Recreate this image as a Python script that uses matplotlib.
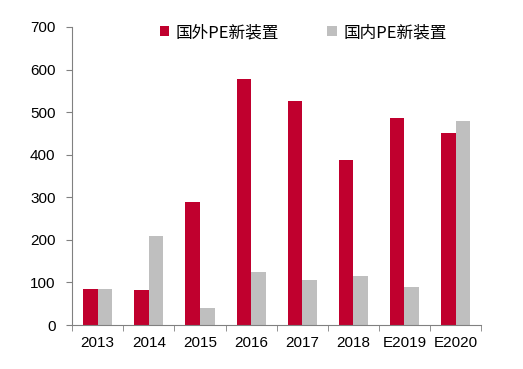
import matplotlib
matplotlib.use("Agg")
import matplotlib.pyplot as plt
import numpy as np

years = ["2013", "2014", "2015", "2016", "2017", "2018", "E2019", "E2020"]
foreign = [85, 83, 288, 578, 525, 387, 486, 450]
domestic = [85, 210, 40, 125, 105, 115, 90, 480]
labels = ["国外PE新装置", "国内PE新装置"]

RED = "#C0002E"
GREY = "#BFBFBF"
AX = "#808080"

plt.rcParams["font.family"] = ["Liberation Sans", "Noto Sans CJK SC", "DejaVu Sans"]

fig = plt.figure(figsize=(5.23, 3.69), dpi=100)
ax = fig.add_axes([0.138, 0.119, 0.782, 0.808])

x = np.arange(len(years))
w = 0.285
ax.bar(x - w / 2, foreign, w, color=RED, label=labels[0])
ax.bar(x + w / 2, domestic, w, color=GREY, label=labels[1])

ax.set_xlim(-0.5, len(years) - 0.5)
ax.set_ylim(0, 700)
ax.set_yticks(range(0, 701, 100))
ax.set_xticks(x)
ax.set_xticklabels(years)
ax.set_xticks(np.arange(-0.5, len(years), 1), minor=True)
ax.tick_params(axis="x", which="major", length=0, labelsize=11, pad=8)
ax.tick_params(axis="x", which="minor", length=4, color=AX, direction="out")
ax.tick_params(axis="y", length=4, color=AX, labelsize=11, pad=8)

for s in ("top", "right"):
    ax.spines[s].set_visible(False)
for s in ("left", "bottom"):
    ax.spines[s].set_color(AX)

leg = ax.legend(loc="upper center", bbox_to_anchor=(0.565, 1.06), ncol=2, frameon=False,
                handlelength=0.55, handleheight=0.55, columnspacing=2.9, handletextpad=0.4,
                prop={"family": ["Noto Sans CJK SC"], "size": 12})

fig.savefig("out.png", dpi=100)
